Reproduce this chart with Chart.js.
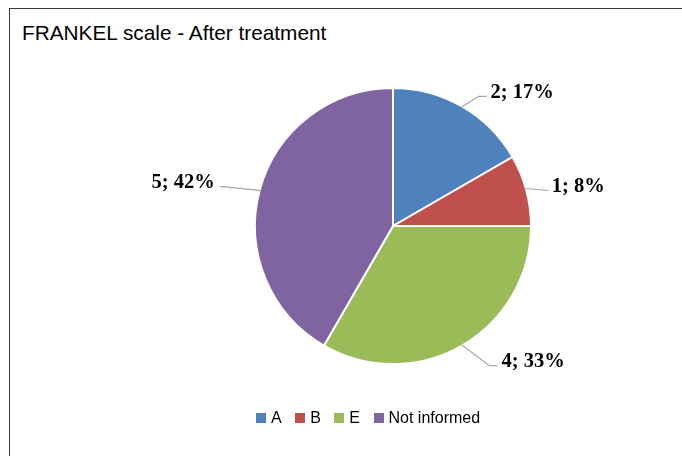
<!DOCTYPE html>
<html>
<head>
<meta charset="utf-8">
<script src="https://cdn.jsdelivr.net/npm/chart.js@4/dist/chart.umd.min.js"></script>
<style>
  html, body { margin: 0; padding: 0; background: #fff; }
  body { width: 682px; height: 456px; position: relative; overflow: hidden; }
  #frame {
    position: absolute; left: 9px; top: 8px; width: 720px; height: 500px;
    border: 1.5px solid #3a3a3a; box-sizing: border-box;
  }
  #title {
    position: absolute; left: 22px; top: 21px;
    font: 20.8px "Liberation Sans", Arial, sans-serif; color: #000; white-space: nowrap;
  }
  #legend {
    position: absolute; left: 256px; top: 409px; display: flex; align-items: center;
    font: 16px "Liberation Sans", Arial, sans-serif; color: #000;
  }
  #legend .item { display: flex; align-items: center; margin-right: 13.5px; }
  #legend .box { width: 10px; height: 10px; margin-right: 5px; }
  #chart { position: absolute; left: 0; top: 0; }
</style>
</head>
<body>
<div id="frame"></div>
<div id="title">FRANKEL scale - After treatment</div>
<canvas id="chart" width="682" height="456"></canvas>
<div id="legend"></div>
<script>
const categories = ['A', 'B', 'E', 'Not informed'];
const counts = [2, 1, 4, 5];
const sliceColors = ['#4F81BD', '#C0504D', '#9BBB59', '#8064A2'];

// leader line settings per slice: angle on the rim (deg from top), elbow offset, run, text gap
const leaders = [
  { angle: 30, dx: 17, dy: -11, run: 8, gap: 4 },
  { angle: 74, dx: 20, dy: 2, run: 4, gap: 3 },
  { angle: 150, dx: 28, dy: 21, run: 8, gap: 4 },
  { angle: 285, dx: -37, dy: -4, run: -4, gap: 5 }
];

const total = counts.reduce((a, b) => a + b, 0);

const pieLabels = {
  id: 'pieLabels',
  afterDatasetsDraw(chart) {
    const ctx = chart.ctx;
    const arcs = chart.getDatasetMeta(0).data;
    ctx.save();
    ctx.font = 'bold 20.5px "Liberation Serif", "Times New Roman", serif';
    ctx.textBaseline = 'middle';
    arcs.forEach((arc, i) => {
      const l = leaders[i];
      const a = l.angle * Math.PI / 180;
      const r = arc.outerRadius - 1;
      const sx = arc.x + r * Math.sin(a);
      const sy = arc.y - r * Math.cos(a);
      const ex = sx + l.dx, ey = sy + l.dy;
      const hx = ex + l.run;
      ctx.strokeStyle = '#A6A6A6';
      ctx.lineWidth = 1.2;
      ctx.beginPath();
      ctx.moveTo(sx, sy);
      ctx.lineTo(ex, ey);
      ctx.lineTo(hx, ey);
      ctx.stroke();
      const text = counts[i] + '; ' + Math.round(counts[i] / total * 100) + '%';
      ctx.fillStyle = '#000';
      if (l.run >= 0) {
        ctx.textAlign = 'left';
        ctx.fillText(text, hx + l.gap, ey - 4);
      } else {
        ctx.textAlign = 'right';
        ctx.fillText(text, hx - l.gap, ey - 4);
      }
    });
    ctx.restore();
  }
};

new Chart(document.getElementById('chart'), {
  type: 'pie',
  data: {
    labels: categories,
    datasets: [{
      data: counts,
      backgroundColor: sliceColors,
      borderColor: '#ffffff',
      borderWidth: 2
    }]
  },
  options: {
    responsive: false,
    animation: false,
    layout: { padding: { left: 254, right: 150, top: 87, bottom: 91 } },
    plugins: {
      legend: { display: false },
      title: { display: false },
      tooltip: { enabled: false }
    }
  },
  plugins: [pieLabels]
});

const legendEl = document.getElementById('legend');
categories.forEach((name, i) => {
  const item = document.createElement('div');
  item.className = 'item';
  const box = document.createElement('div');
  box.className = 'box';
  box.style.background = sliceColors[i];
  const label = document.createElement('span');
  label.textContent = name;
  item.appendChild(box);
  item.appendChild(label);
  legendEl.appendChild(item);
});
</script>
</body>
</html>
